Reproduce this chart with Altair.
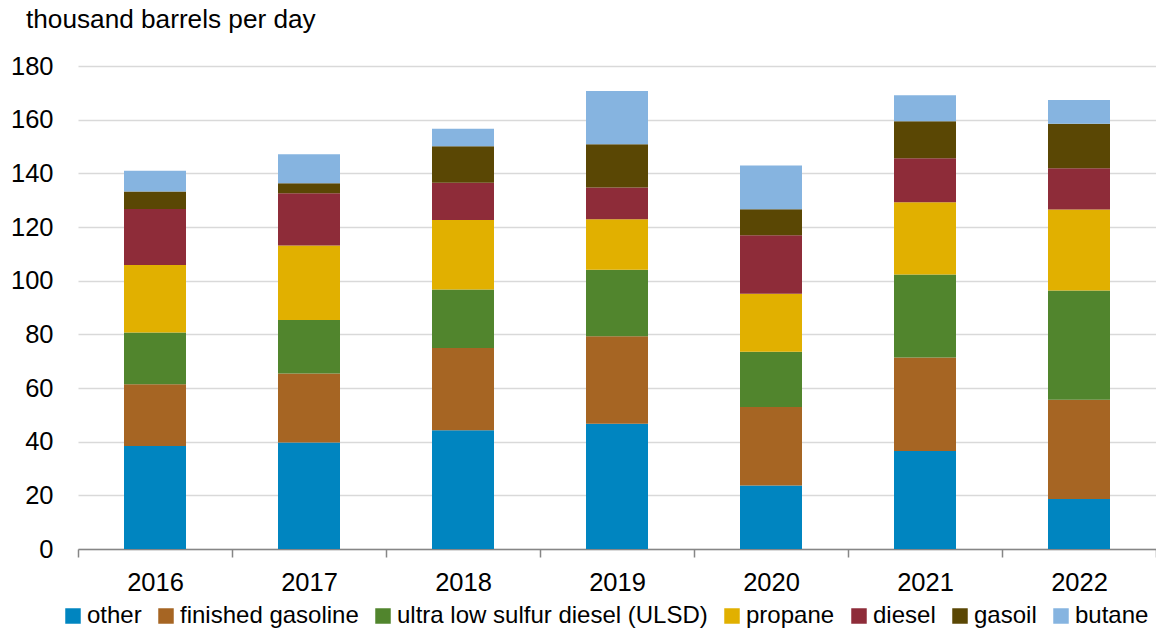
import altair as alt
import pandas as pd

years = ["2016", "2017", "2018", "2019", "2020", "2021", "2022"]
series = ["other", "finished gasoline", "ultra low sulfur diesel (ULSD)",
          "propane", "diesel", "gasoil", "butane"]
colors = ["#0085c0", "#a66523", "#51852d", "#e1b000", "#8e2c39", "#5a4704", "#86b4e0"]

other = [38.4, 39.7, 44.3, 46.7, 23.7, 36.5, 18.6]
finished_gasoline = [23.0, 25.7, 30.6, 32.6, 29.2, 34.9, 37.0]
ulsd = [19.3, 19.9, 21.8, 24.8, 20.6, 30.9, 40.7]
propane = [25.1, 27.8, 25.9, 18.8, 21.6, 26.9, 30.2]
diesel = [20.9, 19.5, 13.9, 11.8, 21.8, 16.4, 15.4]
gasoil = [6.5, 3.7, 13.6, 16.1, 9.7, 13.8, 16.6]
butane = [7.8, 10.8, 6.5, 19.9, 16.3, 9.7, 8.8]

y_ticks = [0, 20, 40, 60, 80, 100, 120, 140, 160, 180]
unit_label = "thousand barrels per day"

values = [other, finished_gasoline, ulsd, propane, diesel, gasoil, butane]
rows = []
for si, (name, vals) in enumerate(zip(series, values)):
    for yr, v in zip(years, vals):
        rows.append({"year": yr, "series": name, "idx": si, "value": v})
df = pd.DataFrame(rows)

FONT = "Liberation Sans"

bars = alt.Chart(df).mark_bar(size=62).encode(
    x=alt.X("year:N", sort=years,
            scale=alt.Scale(paddingInner=0, paddingOuter=0),
            axis=alt.Axis(title=None, labelAngle=0, labelFontSize=25.5,
                          labelColor="black", labelPadding=13,
                          domainColor="#868686", domainWidth=1.5,
                          tickColor="#868686", tickWidth=1.5, tickSize=8,
                          tickBand="extent", grid=False)),
    y=alt.Y("value:Q", stack="zero",
            scale=alt.Scale(domain=[0, 180], nice=False),
            axis=alt.Axis(title=None, values=y_ticks, labelFontSize=25.5,
                          labelColor="black", labelPadding=25, tickSize=0,
                          ticks=False, domain=False, grid=True,
                          gridColor="#d9d9d9", gridWidth=1.3)),
    color=alt.Color("series:N", sort=series,
                    scale=alt.Scale(domain=series, range=colors),
                    legend=alt.Legend(orient="none", legendX=-17, legendY=538,
                                      direction="horizontal", columns=7,
                                      title=None, symbolType="square",
                                      symbolSize=240, symbolStrokeWidth=0,
                                      labelFontSize=24.0, labelOffset=2,
                                      columnPadding=12, padding=0,
                                      labelColor="black", labelLimit=0)),
    order=alt.Order("idx:Q", sort="ascending"),
)

title_df = pd.DataFrame({"t": [unit_label]})
title = alt.Chart(title_df).mark_text(align="left", baseline="alphabetic",
                                      fontSize=26.2, color="black").encode(
    x=alt.value(-52), y=alt.value(-38), text="t:N")

chart = alt.layer(bars, title).properties(
    width=1078, height=483,
    padding={"left": 70, "top": 58, "right": 0, "bottom": 80},
    autosize=alt.AutoSizeParams(type="none"),
).configure(font=FONT).configure_view(stroke=None)

chart.save("out.html", embed_options={"renderer": "svg", "actions": False})
